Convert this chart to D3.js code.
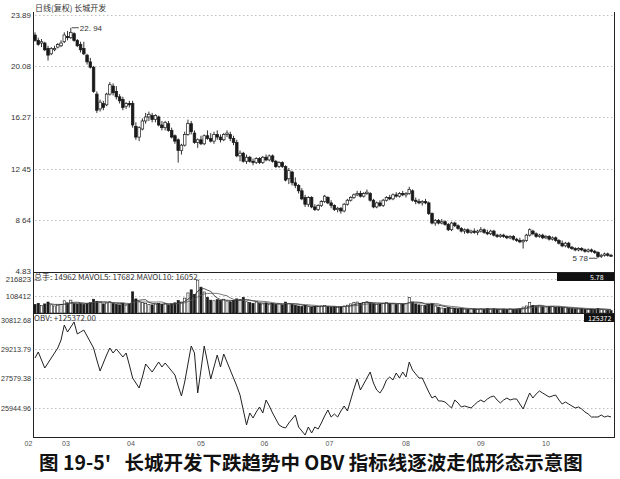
<!DOCTYPE html>
<html><head><meta charset="utf-8">
<script src="https://cdn.jsdelivr.net/npm/d3@7"></script>
<style>body{margin:0;background:#fff}svg{display:block}</style>
</head><body>
<svg id="c" width="620" height="479"></svg>
<script>
const opens = [22.4,22.0,21.8,21.8,21.4,21.0,21.3,21.5,21.6,21.9,
22.3,22.2,22.5,22.0,21.7,21.4,20.9,20.4,20.0,18.0,
16.9,17.3,17.2,18.0,18.6,18.2,17.8,17.6,17.1,17.3,
17.3,15.6,14.8,15.4,16.0,16.3,16.4,16.1,16.3,15.7,
15.5,15.8,15.3,14.9,14.6,13.8,14.2,15.0,15.8,15.1,
14.4,14.6,14.3,14.9,14.7,14.5,15.0,14.8,14.6,15.0,
15.0,14.7,14.4,13.4,13.6,13.0,13.3,13.0,12.9,13.2,
12.9,13.3,13.1,13.4,13.0,12.6,12.9,12.6,11.7,12.2,
11.4,11.2,10.8,10.3,9.8,10.3,9.6,9.4,9.7,10.0,
10.3,9.9,9.7,9.4,9.5,9.3,9.8,10.1,10.3,10.5,
10.6,10.4,10.6,10.6,10.1,9.6,9.9,9.7,10.1,10.3,
10.2,10.5,10.4,10.6,10.5,10.6,10.8,10.1,10.0,9.9,
10.0,9.9,9.1,8.4,8.6,8.4,8.5,8.3,7.9,8.4,
8.2,8.0,7.8,7.9,7.7,7.8,7.7,7.8,7.9,7.7,
7.6,7.8,7.5,7.4,7.5,7.4,7.3,7.4,7.2,7.1,
7.0,7.1,7.5,7.8,7.6,7.4,7.5,7.3,7.4,7.2,
7.3,7.1,6.9,6.7,6.9,6.6,6.5,6.4,6.5,6.4,
6.3,6.4,6.3,6.2,5.9,6.0,6.1,6.0];
const highs = [22.6,22.2,22.1,21.9,21.6,21.5,21.6,21.8,22.0,22.6,
22.7,22.94,22.6,22.1,21.9,21.9,21.0,20.7,20.1,18.2,
17.6,17.5,18.1,18.9,18.8,18.6,18.0,17.8,17.4,17.5,
17.5,15.9,15.6,16.2,16.6,16.7,16.6,16.5,16.4,16.0,
16.0,16.0,15.5,15.0,14.7,14.3,15.2,16.1,16.0,15.3,
14.7,14.9,15.0,15.3,15.1,15.2,15.3,15.0,15.1,15.3,
15.2,14.9,14.6,13.8,13.7,13.5,13.4,13.2,13.3,13.3,
13.4,13.5,13.5,13.5,13.1,13.0,13.0,12.7,12.5,12.3,
11.8,11.3,11.0,10.5,10.4,10.4,9.8,9.8,10.1,10.5,
10.4,10.1,9.8,9.6,9.6,9.9,10.2,10.4,10.6,10.8,
10.8,10.7,10.9,10.7,10.2,10.0,10.1,10.2,10.4,10.5,
10.6,10.7,10.7,10.8,10.7,11.1,10.9,10.3,10.2,10.1,
10.2,10.0,9.2,8.7,8.7,8.7,8.6,8.4,8.5,8.5,
8.3,8.1,8.0,8.0,7.9,8.0,7.9,8.1,8.0,7.9,
7.9,7.9,7.6,7.6,7.6,7.5,7.5,7.5,7.3,7.3,
7.2,7.6,8.0,7.9,7.7,7.6,7.6,7.5,7.5,7.4,
7.4,7.2,7.1,7.0,7.0,6.7,6.6,6.6,6.6,6.5,
6.5,6.5,6.4,6.3,6.1,6.2,6.2,6.1];
const lows = [21.9,21.6,21.5,21.2,20.5,20.9,21.2,21.4,21.5,21.8,
22.0,22.1,21.9,21.5,21.1,20.9,20.2,19.9,18.1,16.6,
16.7,16.8,17.1,17.9,17.9,17.6,17.3,16.8,16.9,17.0,
15.5,14.6,14.5,15.3,15.8,16.0,15.9,15.9,15.6,15.3,
15.3,15.2,14.7,14.3,12.9,13.5,14.1,14.9,15.0,14.3,
14.0,14.2,14.2,14.6,14.4,14.3,14.6,14.4,14.5,14.8,
14.5,14.2,13.3,13.0,12.9,12.8,12.9,12.7,12.8,12.8,
12.8,13.0,13.0,12.9,12.5,12.5,12.5,11.5,11.3,11.2,
11.0,10.6,10.1,9.6,9.6,9.5,9.3,9.3,9.6,9.9,
9.8,9.5,9.3,9.2,9.1,9.2,9.7,10.0,10.2,10.4,
10.3,10.3,10.5,10.0,9.5,9.5,9.6,9.6,10.0,10.1,
10.1,10.3,10.3,10.4,10.3,10.5,10.0,9.8,9.8,9.7,
9.8,9.0,8.3,8.2,8.3,8.3,8.2,7.8,7.8,8.1,
7.9,7.7,7.6,7.6,7.6,7.6,7.5,7.7,7.6,7.5,
7.5,7.4,7.3,7.3,7.3,7.2,7.2,7.1,7.0,6.9,
6.5,7.0,7.4,7.5,7.3,7.3,7.2,7.2,7.1,7.1,
7.0,6.8,6.6,6.6,6.5,6.4,6.3,6.3,6.3,6.2,
6.2,6.2,6.1,5.78,5.8,5.9,5.9,5.9];
const closes = [22.0,21.7,21.9,21.3,20.9,21.4,21.4,21.7,21.8,22.4,
22.2,22.6,22.0,21.6,21.3,21.0,20.4,20.0,18.2,16.8,
17.4,17.0,18.0,18.7,18.1,17.8,17.5,17.0,17.3,17.2,
15.7,14.8,15.5,16.0,16.3,16.5,16.1,16.4,15.7,15.5,
15.9,15.3,14.8,14.5,13.8,14.2,15.0,15.8,15.2,14.4,
14.6,14.3,14.9,14.7,14.5,15.0,14.8,14.6,15.0,15.1,
14.7,14.4,13.4,13.6,13.0,13.3,13.0,12.9,13.2,12.9,
13.3,13.1,13.4,13.0,12.6,12.9,12.6,11.6,12.3,11.4,
11.2,10.8,10.2,9.8,10.3,9.6,9.4,9.7,10.0,10.4,
9.9,9.7,9.4,9.5,9.3,9.8,10.1,10.3,10.5,10.6,
10.4,10.6,10.7,10.1,9.6,9.9,9.7,10.1,10.3,10.2,
10.5,10.4,10.6,10.5,10.6,10.9,10.1,10.0,9.9,10.0,
9.9,9.1,8.4,8.6,8.4,8.5,8.3,7.9,8.4,8.2,
8.0,7.8,7.9,7.7,7.8,7.7,7.8,7.9,7.7,7.6,
7.8,7.5,7.4,7.5,7.4,7.3,7.4,7.2,7.1,7.0,
7.1,7.5,7.9,7.6,7.4,7.5,7.3,7.4,7.2,7.3,
7.1,6.9,6.7,6.9,6.6,6.5,6.4,6.5,6.4,6.3,
6.4,6.3,6.2,5.9,6.0,6.1,6.0,6.0];
const volumes = [55000,62000,48000,58000,70000,52000,45000,50000,55000,78000,
65000,82000,60000,58000,62000,55000,60000,66000,88000,75000,
70000,58000,64000,72000,60000,55000,52000,62000,50000,58000,
135000,90000,72000,66000,60000,55000,52000,58000,62000,55000,
60000,52000,58000,65000,80000,70000,95000,128000,148000,118000,
210000,165000,134000,100000,82000,78000,85000,80000,88000,76000,
72000,80000,90000,85000,100000,72000,66000,62000,70000,60000,
58000,64000,56000,60000,55000,58000,52000,70000,62000,55000,
50000,45000,42000,48000,40000,38000,42000,40000,45000,48000,
42000,38000,40000,36000,42000,45000,50000,58000,66000,70000,
62000,68000,72000,65000,60000,55000,58000,62000,66000,60000,
58000,55000,60000,58000,62000,100000,70000,58000,52000,50000,
48000,55000,60000,45000,38000,32000,30000,35000,28000,30000,
26000,28000,25000,24000,27000,25000,23000,26000,24000,28000,
25000,27000,24000,22000,25000,23000,26000,24000,25000,28000,
38000,45000,66000,48000,42000,45000,40000,38000,42000,40000,
36000,38000,35000,33000,30000,28000,26000,25000,27000,24000,
22000,25000,23000,30000,24000,20000,18000,14962];
const obvValues = [28715,29047,28604,28161,28438,28715,28992,29269,29712,30543,
30155,30432,30709,30044,30155,30266,29934,29601,29269,28604,
27995,28438,28881,29269,28992,29213,28992,28770,28992,28327,
27607,27330,27053,27662,28382,28161,27939,28216,28493,28216,
28438,28216,27995,27773,27164,26610,27385,28382,29380,28992,
26776,28050,29380,28493,27551,28216,28881,28216,28936,28493,
28050,27607,27164,26665,25834,25003,25668,25391,25723,26000,
25668,26388,26056,25668,25335,25003,24892,24837,25114,25335,
25557,24892,24671,24449,24892,24560,24892,24781,25114,25502,
25834,25446,25612,25446,25779,26056,25779,26388,26997,27551,
26942,27274,27607,27939,27330,26942,26776,27053,27496,27662,
27496,27884,27607,27939,27662,28493,28050,27828,27607,27607,
27219,26831,26499,26610,26333,26333,26277,26111,25945,26388,
26222,26000,26056,26000,25945,26111,26277,26388,26277,26443,
26554,26610,26388,26222,26388,26499,26388,26443,26443,26166,
25889,26333,26776,26499,26720,26887,26776,26665,26554,26610,
26665,26388,26166,26277,26166,26056,25945,26000,25889,25723,
25612,25446,25446,25446,25557,25446,25502,25446];
const priceTicks = [23.89, 20.08, 16.27, 12.45, 8.64, 4.83];
const volTicks = [216823, 108412];
const obvTicks = [30812.68, 29213.79, 27579.38, 25944.96];
const monthLabels = ["02","03","04","05","06","07","08","09","10"];
const monthPos = [-2, 9.5, 29.5, 51, 70.5, 90.5, 114, 137, 157];

const svg = d3.select("#c");
const N = closes.length;
const L = 33, R = 614;
const x = d3.scaleLinear().domain([0, N-1]).range([35, 611]);
const yP = d3.scaleLinear().domain([4.83, 23.89]).range([271, 15]);
const yV = d3.scaleLinear().domain([0, 216823]).range([313, 279]);
const yO = d3.scaleLinear().domain([25944.96, 29213.79]).range([408, 349]);
const ink = "#1a1a1a", txt = "#333";
const font = "Liberation Sans, Arial, sans-serif";

// gridlines
function grid(ticks, sc) {
  svg.append("g").selectAll("line").data(ticks).join("line")
    .attr("x1", L+2).attr("x2", R-1)
    .attr("y1", d => Math.round(sc(d))+0.5).attr("y2", d => Math.round(sc(d))+0.5)
    .attr("stroke", "#b0b0b0").attr("stroke-width", 0.8).attr("stroke-dasharray", "1.5,2.5");
}
grid(priceTicks.slice(0,5), yP);
grid(volTicks, yV);
grid(obvTicks, yO);

// axes labels
function axisLabels(ticks, sc, fmt, size) {
  const ax = d3.axisLeft(sc).tickValues(ticks).tickSize(0).tickPadding(2).tickFormat(fmt);
  const g = svg.append("g").attr("transform", `translate(${L},0)`).call(ax);
  g.select(".domain").remove();
  g.selectAll("text").attr("font-family", font).attr("font-size", size).attr("fill", txt);
}
axisLabels(priceTicks, yP, d => d.toFixed(2).replace("12.45","12 45").replace("8.64","8 64"), 8);
axisLabels(volTicks, yV, d => String(d), 7.6);
axisLabels(obvTicks, yO, d => d.toFixed(2), 7.2);

// frame
const fr = svg.append("g").attr("stroke", "#222").attr("stroke-width", 1);
fr.append("line").attr("x1", L+0.5).attr("x2", L+0.5).attr("y1", 12).attr("y2", 437);
fr.append("line").attr("x1", R+0.5).attr("x2", R+0.5).attr("y1", 12).attr("y2", 437);
fr.append("line").attr("x1", L).attr("x2", R).attr("y1", 272.5).attr("y2", 272.5);
fr.append("line").attr("x1", L).attr("x2", R).attr("y1", 313.5).attr("y2", 313.5);
fr.append("line").attr("x1", L).attr("x2", R+1).attr("y1", 437.5).attr("y2", 437.5).attr("stroke-width", 1.2);

// candles
const idx = d3.range(N);
const cg = svg.append("g");
cg.selectAll("line").data(idx).join("line")
  .attr("x1", i => x(i)).attr("x2", i => x(i))
  .attr("y1", i => yP(highs[i])).attr("y2", i => yP(lows[i]))
  .attr("stroke", ink).attr("stroke-width", 0.9);
cg.selectAll("rect").data(idx).join("rect")
  .attr("x", i => x(i) - 1.3).attr("width", 2.6)
  .attr("y", i => yP(Math.max(opens[i], closes[i])))
  .attr("height", i => Math.max(1, Math.abs(yP(opens[i]) - yP(closes[i]))))
  .attr("fill", i => closes[i] > opens[i] ? "#fff" : ink)
  .attr("stroke", ink).attr("stroke-width", 0.7);

// high / low markers
const hi = d3.maxIndex(highs), lo = d3.minIndex(lows);
svg.append("line").attr("x1", x(hi)+1).attr("x2", x(hi)+8).attr("y1", yP(highs[hi])).attr("y2", yP(highs[hi])).attr("stroke", ink).attr("stroke-width", 0.8);
svg.append("text").attr("x", x(hi)+9).attr("y", yP(highs[hi])+3).text("22. 94")
  .attr("font-family", font).attr("font-size", 8).attr("fill", txt);
svg.append("line").attr("x1", x(lo)-9).attr("x2", x(lo)-1).attr("y1", yP(lows[lo])).attr("y2", yP(lows[lo])).attr("stroke", ink).attr("stroke-width", 0.8);
svg.append("text").attr("x", x(lo)-10).attr("y", yP(lows[lo])+3).attr("text-anchor", "end").text("5 78")
  .attr("font-family", font).attr("font-size", 8).attr("fill", txt);

// volume bars
const vg = svg.append("g");
vg.selectAll("rect").data(idx).join("rect")
  .attr("x", i => x(i) - 1.1).attr("width", 2.2)
  .attr("y", i => yV(volumes[i])).attr("height", i => 313 - yV(volumes[i]))
  .attr("fill", i => closes[i] > opens[i] ? "#fff" : ink)
  .attr("stroke", ink).attr("stroke-width", 0.6);
function ma(n) { return idx.map(i => i >= n-1 ? d3.mean(volumes.slice(i-n+1, i+1)) : null); }
[ma(5), ma(10)].forEach((m, k) => {
  svg.append("path").datum(idx.filter(i => m[i] != null))
    .attr("d", d3.line().x(i => x(i)).y(i => yV(m[i])))
    .attr("fill", "none").attr("stroke", k ? "#555" : "#222").attr("stroke-width", 0.8);
});

// OBV line
svg.append("path").datum(idx)
  .attr("d", d3.line().x(i => x(i)).y(i => yO(obvValues[i])))
  .attr("fill", "none").attr("stroke", "#222").attr("stroke-width", 1);

// month labels
svg.append("g").selectAll("text").data(monthLabels).join("text")
  .attr("x", (d, k) => x(monthPos[k])).attr("y", 446).attr("text-anchor", "middle")
  .attr("font-family", font).attr("font-size", 7).attr("fill", "#555").text(d => d);

// headers
function label(t, xx, yy, size, fill) {
  return svg.append("text").attr("x", xx).attr("y", yy).text(t)
    .attr("font-family", "Noto Sans CJK SC, " + font).attr("font-size", size || 8).attr("fill", fill || txt);
}
label("日线(复权)  长城开发", 35, 11);
label("总手: 14962 MAVOL5: 17682 MAVOL10: 16052", 34, 280);
label("OBV: +125372.00", 34, 321);

// right value boxes
svg.append("rect").attr("x", 557).attr("y", 273).attr("width", 57).attr("height", 8).attr("fill", "#111");
label("5.78", 590, 280, 7, "#fff");
svg.append("rect").attr("x", 584).attr("y", 314).attr("width", 30).attr("height", 8).attr("fill", "#111");
label("125372", 588, 321, 7, "#fff");

// caption
svg.append("text").attr("x", 311).attr("y", 470).attr("text-anchor", "middle")
  .attr("font-family", "Noto Sans CJK SC, sans-serif").attr("font-weight", 700).attr("font-size", 19.5).attr("fill", "#111")
  .attr("xml:space", "preserve")
  .text("图 19-5'   长城开发下跌趋势中 OBV 指标线逐波走低形态示意图");
</script>
</body></html>
